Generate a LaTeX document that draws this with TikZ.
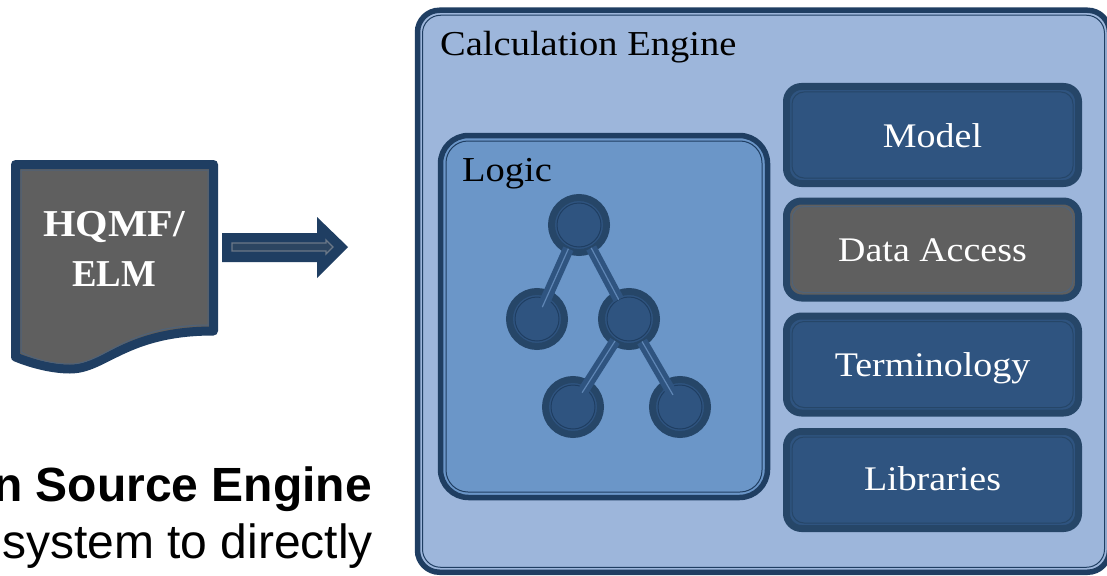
\documentclass[tikz,border=0pt]{standalone}
\usepackage{graphicx}
\usepackage{fontspec}
\setmainfont{Liberation Serif}
\newfontfamily\sansface{Liberation Sans}
\newfontfamily\serifwide[FakeStretch=1.1]{Liberation Serif}
\definecolor{inkdark}{HTML}{1F3E62}
\definecolor{ringdark}{HTML}{264668}
\definecolor{boxblue}{HTML}{2F5480}
\definecolor{paleblue}{HTML}{9DB6DB}
\definecolor{logicblue}{HTML}{6B96C8}
\definecolor{docgray}{HTML}{5F5F5F}
\definecolor{edgegray}{HTML}{4F6278}
\definecolor{stripe}{HTML}{5F86B5}
\definecolor{arrowline}{HTML}{6B7888}
\tikzset{
  panelbox/.style={draw=inkdark, rectangle, inner sep=0pt, outer sep=0pt},
  sidebox/.style={panelbox, draw=ringdark, line width=7pt, rounded corners=15pt, fill=boxblue,
    minimum width=292pt, minimum height=97pt, text=white,
    font=\serifwide\fontsize{34.5}{34.5}\selectfont, text height=24pt, text depth=0pt},
  treenode/.style={circle, draw=ringdark, line width=7pt, fill=boxblue,
    minimum size=55pt, inner sep=0pt, outer sep=0pt},
  innerdisc/.style={circle, draw=inkdark, line width=1pt, minimum size=44pt, inner sep=0pt},
  branch/.style={line width=11pt, boxblue},
  branchline/.style={line width=1.2pt, stripe},
  title/.style={anchor=base west, inner sep=0pt, text=black, font=\serifwide\fontsize{35}{35}\selectfont},
  doclabel/.style={anchor=base, inner sep=0pt, text=white, font=\serifwide\bfseries\fontsize{38}{38}\selectfont},
  caption/.style={anchor=base east, inner sep=0pt, text=black, font=\sansface\fontsize{48}{48}\selectfont},
}
\newcommand{\boxinset}[4]{%
  \draw[#4, line width=1pt, rounded corners=#3pt]
    ([shift={(#2pt,-#2pt)}]#1.north west) rectangle ([shift={(-#2pt,#2pt)}]#1.south east);}
\begin{document}
\begin{tikzpicture}[x=1pt,y=-1pt]
\clip (0,0) rectangle (1107,575);
\fill[white] (0,0) rectangle (1107,575);

% document
\draw[fill=docgray, draw=inkdark, line width=9pt, line join=round]
  (15.5,164.5) -- (213.5,164.5) -- (213.5,331)
  .. controls (125,331) and (105,369) .. (70,369)
  .. controls (55,369) and (35,365) .. (15.5,357) -- cycle;
\draw[edgegray, line width=1pt, line join=round]
  (21,170) -- (208,170) -- (208,325)
  .. controls (125,325) and (105,364) .. (70,364)
  .. controls (55,364) and (35,360) .. (21,352) -- cycle;
\node[doclabel] (hqmf) at (114,236) {HQMF/};
\node[doclabel] (elm) at (114,286) {\scalebox{0.88}[1]{ELM}};

% block arrow
\fill[inkdark] (222,233) -- (317,233) -- (317,217) -- (348,247) -- (317,278) -- (317,262) -- (222,262) -- cycle;
\draw[arrowline, fill=inkdark!80!docgray, line width=1.3pt]
  (232,243) -- (326,243) -- (326,240) -- (333,247) -- (326,254) -- (326,251) -- (232,251) -- cycle;

% caption (cut by the picture's left edge)
\node[caption, font=\sansface\bfseries\fontsize{48}{48}\selectfont] (cap1) at (372,501) {n Source Engine};
\node[caption] (cap2) at (373,558) {system to directly};

% calculation engine panel
\node[panelbox, line width=5.5pt, rounded corners=22pt, fill=paleblue,
  minimum width=692pt, minimum height=562pt] (engine) at (763.5,291.25) {};
\boxinset{engine}{5}{18}{inkdark}
\node[title] (enginelabel) at (440,56) {Calculation Engine};

% logic panel
\node[panelbox, line width=5.5pt, rounded corners=28pt, fill=logicblue,
  minimum width=327pt, minimum height=362pt] (logic) at (604,316.5) {};
\boxinset{logic}{5.5}{22}{inkdark}
\node[title] (logiclabel) at (462,181) {Logic};

% side boxes
\node[sidebox] (model) at (932.5,135) {Model};
\boxinset{model}{5.5}{12}{ringdark}
\node[sidebox, fill=docgray] (data) at (932.5,249.5) {Data Access};
\boxinset{data}{5.5}{12}{edgegray}
\node[sidebox] (term) at (932.5,364.5) {Terminology};
\boxinset{term}{5.5}{12}{ringdark}
\node[sidebox, text height=20pt] (libs) at (932.5,480) {Libraries};
\boxinset{libs}{5.5}{12}{ringdark}

% tree
\node[treenode] (n1) at (579,225) {};
\node[treenode] (n2) at (537,319) {};
\node[treenode] (n3) at (629,319) {};
\node[treenode] (n4) at (573,407) {};
\node[treenode] (n5) at (680,407) {};
\foreach \c in {n1,n2,n3,n4,n5}
  \node[innerdisc] (\c in) at (\c.center) {};
\foreach \a/\b/\e in {n1/n2/13pt, n1/n3/22pt, n3/n4/17pt, n3/n5/14pt}{
  \draw[branch, shorten >=\e, shorten <=26pt] (\a.center) -- (\b.center);
  \draw[branchline, shorten >=\e, shorten <=26pt] (\a.center) -- (\b.center);
}
\end{tikzpicture}
\end{document}
